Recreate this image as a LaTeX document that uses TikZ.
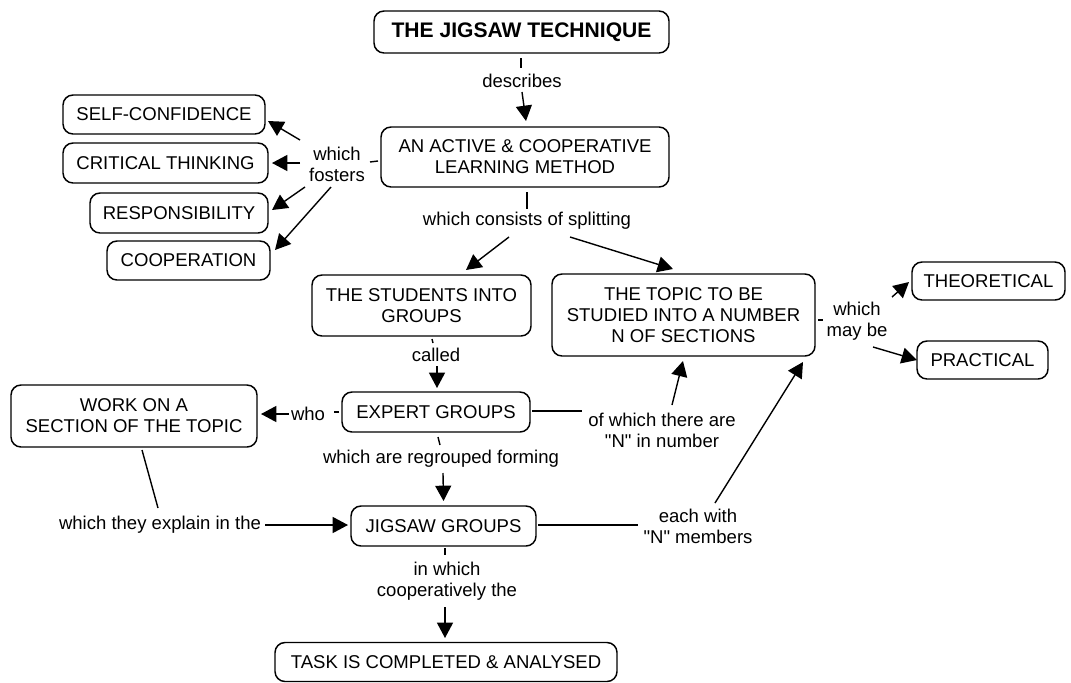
\documentclass[tikz,border=0pt]{standalone}
\usepackage{fontspec}
\setmainfont{Liberation Sans}
\usetikzlibrary{arrows.meta,calc}
\begin{document}
\begin{tikzpicture}[x=0.75pt,y=-0.75pt,
  txt/.style={font=\fontsize{13.9}{15.9}\selectfont},
  box/.style={txt, draw, rounded corners=7.5pt, line width=1.1pt, align=center, inner sep=0pt},
  wh/.style 2 args={minimum width={#1*0.75pt}, minimum height={#2*0.75pt}},
  lab/.style={txt, align=center, inner sep=0pt},
  ln/.style={line width=1.05pt},
  arr/.style={line width=1.05pt, -{Triangle[length=11.5pt,width=12pt]}}]
\path[use as bounding box] (0,0) rectangle (1071,682);
% concepts
\node[box, wh={295}{42}, font=\bfseries\fontsize{15.8}{18}\selectfont] (title) at (521.5,32) {THE JIGSAW TECHNIQUE};
\node[box, wh={288}{60}] (active) at (525,157) {AN ACTIVE \& COOPERATIVE\\LEARNING METHOD};
\node[box, wh={202}{39}] (self) at (164,114.5) {SELF-CONFIDENCE};
\node[box, wh={205}{40}] (crit) at (165.5,163) {CRITICAL THINKING};
\node[box, wh={178}{40}] (resp) at (179,213) {RESPONSIBILITY};
\node[box, wh={163}{39}] (coop) at (188.5,260.5) {COOPERATION};
\node[box, wh={219}{61}] (students) at (421.5,305.5) {THE STUDENTS INTO\\GROUPS};
\node[box, wh={263}{82}] (topic) at (683.5,315) {THE TOPIC TO BE\\STUDIED INTO A NUMBER\\N OF SECTIONS};
\node[box, wh={153}{38}] (theo) at (988.5,281) {THEORETICAL};
\node[box, wh={131}{38}] (prac) at (982.5,360) {PRACTICAL};
\node[box, wh={188}{40}] (expert) at (436,412) {EXPERT GROUPS};
\node[box, wh={246}{62}] (work) at (134,416) {WORK ON A\\SECTION OF THE TOPIC};
\node[box, wh={185}{40}] (jgroups) at (443.5,526) {JIGSAW GROUPS};
\node[box, wh={342}{39}] (task) at (446,662) {TASK IS COMPLETED \& ANALYSED};
% linking phrases
\node[lab] (lab1) at (522,81) {describes};
\node[lab] (lab2) at (337,164) {which\\fosters};
\node[lab] (lab3) at (527,221) {which consists of splitting};
\node[lab] (lab4) at (436,355) {called};
\node[lab] (lab5) at (441,459) {which are regrouped forming};
\node[lab] (lab6) at (308,414) {who};
\node[lab] (lab7) at (662,430) {of which there are\\\textquotedbl N\textquotedbl{} in number};
\node[lab] (lab8) at (857,321) {which\\may be};
\node[lab] (lab9) at (160,525) {which they explain in the};
\node[lab] (lab10) at (698,526) {each with\\\textquotedbl N\textquotedbl{} members};
\node[lab] (lab11) at (447,581) {in which\\cooperatively the};
% connectors
\draw[ln] ($(title)+(-0.5,26)$) -- ($(lab1)+(-1,-13)$);
\draw[arr] ($(lab1)+(0,11)$) -- ($(active)+(1,-36)$);
\draw[ln] ($(active)+(-147,4)$) -- ($(lab2)+(33,-2)$);
\draw[arr] ($(lab2)+(-37,-24)$) -- ($(self)+(104,6.5)$);
\draw[arr] ($(lab2)+(-37,-1)$) -- ($(crit)+(106.5,0)$);
\draw[arr] ($(lab2)+(-32,23)$) -- ($(resp)+(93,-3)$);
\draw[arr] ($(lab2)+(-6,23)$) -- ($(coop)+(86.5,-10.5)$);
\draw[ln] ($(active)+(2,35)$) -- ($(lab3)+(0,-12)$);
\draw[arr] ($(lab3)+(-18,16)$) -- ($(students)+(44.5,-35.5)$);
\draw[arr] ($(lab3)+(43,16)$) -- ($(topic)+(-10.5,-46)$);
\draw[ln] ($(students)+(10.5,33.5)$) -- ($(lab4)+(-3,-12)$);
\draw[arr] ($(lab4)+(1,11)$) -- ($(expert)+(1,-24)$);
\draw[ln] ($(expert)+(2,25)$) -- ($(lab5)+(-1,-14)$);
\draw[arr] ($(lab5)+(2,14)$) -- ($(jgroups)+(0,-25)$);
\draw[ln] ($(expert)+(-97,0)$) -- ($(lab6)+(26,-2)$);
\draw[arr] ($(lab6)+(-19,0)$) -- ($(work)+(127,-2)$);
\draw[ln] ($(expert)+(96,-1)$) -- ($(lab7)+(-80,-19)$);
\draw[arr] ($(lab7)+(10,-25)$) -- ($(topic)+(-0.5,46)$);
\draw[ln] ($(topic)+(134.5,5)$) -- ($(lab8)+(-34,-1)$);
\draw[arr] ($(lab8)+(35,-24)$) -- ($(theo)+(-79.5,1)$);
\draw[arr] ($(lab8)+(16,26)$) -- ($(prac)+(-65.5,0)$);
\draw[ln] ($(work)+(8,34)$) -- ($(lab9)+(-2,-17)$);
\draw[arr] ($(lab9)+(105,0)$) -- ($(jgroups)+(-95.5,-1)$);
\draw[ln] ($(jgroups)+(94.5,-1)$) -- ($(lab10)+(-60,-1)$);
\draw[arr] ($(lab10)+(17,-23)$) -- ($(topic)+(119.5,47)$);
\draw[ln] ($(jgroups)+(1.5,22)$) -- ($(lab11)+(-2,-26)$);
\draw[arr] ($(lab11)+(-2,26)$) -- ($(task)+(-1,-24)$);
\end{tikzpicture}
\end{document}
